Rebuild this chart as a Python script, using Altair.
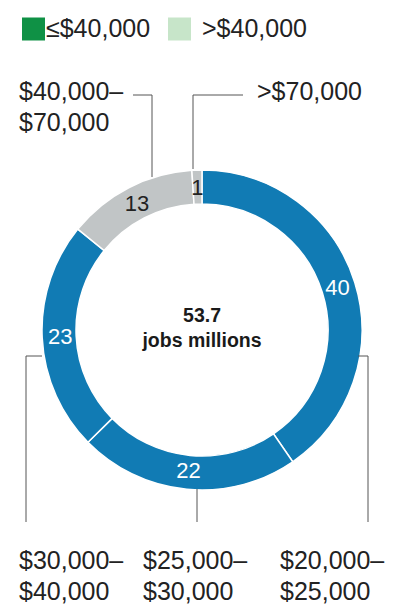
import altair as alt
import pandas as pd

# ---- data ----
segments = ["$20,000–$25,000", "$25,000–$30,000", "$30,000–$40,000", "$40,000–$70,000", ">$70,000"]
jobs = [40, 22, 23, 13, 1]
groups = ["low", "low", "low", "high", "high"]
total_label = ["53.7", "jobs millions"]

legend_labels = ["≤$40,000", ">$40,000"]
legend_colors = ["#0f9145", "#c7e5c9"]

seg_labels = ["$40,000–\n$70,000", ">$70,000", "$30,000–\n$40,000", "$25,000–\n$30,000", "$20,000–\n$25,000"]

W, H = 379, 598
CX, CY = 202, 330  # page coords of donut centre


def px(v):
    return v - 8


df = pd.DataFrame({"segment": segments, "jobs": jobs, "group": groups, "idx": range(len(jobs))})
df["tcol"] = ["#ffffff" if g == "low" else "#222222" for g in groups]

xs = alt.Scale(domain=[8, 8 + W])
ys = alt.Scale(domain=[8, 8 + H], reverse=True)

base = alt.Chart(df)

arcs = base.mark_arc(innerRadius=126, outerRadius=160, stroke="white", strokeWidth=1.5).encode(
    theta=alt.Theta("jobs:Q", stack=True),
    order=alt.Order("idx:Q"),
    color=alt.Color("group:N", scale=alt.Scale(domain=["low", "high"], range=["#117bb4", "#c1c5c6"]), legend=None),
    x=alt.value(px(CX)),
    y=alt.value(px(CY)),
)

vals = base.mark_text(radius=142, fontSize=22, font="Liberation Sans", baseline="middle").encode(
    theta=alt.Theta("jobs:Q", stack=True),
    order=alt.Order("idx:Q"),
    text=alt.Text("jobs:Q"),
    color=alt.Color("tcol:N", scale=None),
    x=alt.value(px(CX)),
    y=alt.value(px(CY)),
)

# centre text
ct = pd.DataFrame({"t": total_label, "x": [CX, CX], "y": [322, 347]})
centre = alt.Chart(ct).mark_text(fontSize=19.5, fontWeight="bold", font="Liberation Sans", color="#1a1a1a",
                                 baseline="alphabetic").encode(
    x=alt.X("x:Q", scale=xs, axis=None), y=alt.Y("y:Q", scale=ys, axis=None), text="t:N"
)

# leader lines (annotation, page coords)
lines = pd.DataFrame({
    "x":  [193, 193, 152, 133, 26, 26, 368, 358, 197],
    "y":  [95, 95, 95, 95, 356, 356, 356, 356, 489],
    "x2": [193, 243, 152, 152, 26, 42, 368, 368, 197],
    "y2": [169, 95, 177, 95, 522, 356, 522, 356, 522],
})
rules = alt.Chart(lines).mark_rule(color="#555555", strokeWidth=1).encode(
    x=alt.X("x:Q", scale=xs, axis=None), y=alt.Y("y:Q", scale=ys, axis=None), x2="x2:Q", y2="y2:Q"
)

# segment labels
lab = pd.DataFrame({"t": seg_labels, "x": [19, 257, 19, 143, 280], "y": [100, 100, 569, 569, 569]})
labels = alt.Chart(lab).mark_text(align="left", baseline="alphabetic", fontSize=25, lineHeight=31,
                                  font="Liberation Sans", color="#222222", lineBreak="\n").encode(
    x=alt.X("x:Q", scale=xs, axis=None), y=alt.Y("y:Q", scale=ys, axis=None), text="t:N"
)

# legend
lg = pd.DataFrame({"t": legend_labels, "c": legend_colors, "sx": [33.5, 179.5], "tx": [46, 202],
                   "y": [29, 29], "yb": [37, 37]})
lg_sq = alt.Chart(lg).mark_square(size=529, opacity=1).encode(
    x=alt.X("sx:Q", scale=xs, axis=None), y=alt.Y("y:Q", scale=ys, axis=None),
    color=alt.Color("c:N", scale=None)
)
lg_tx = alt.Chart(lg).mark_text(align="left", baseline="alphabetic", fontSize=25, font="Liberation Sans",
                                color="#222222").encode(
    x=alt.X("tx:Q", scale=xs, axis=None), y=alt.Y("yb:Q", scale=ys, axis=None), text="t:N"
)

chart = alt.layer(arcs, vals, centre, rules, labels, lg_sq, lg_tx).properties(
    width=W, height=H, padding=0, autosize="none"
).configure_view(stroke=None)

chart.save("out.html", embed_options={"renderer": "svg", "actions": False})
